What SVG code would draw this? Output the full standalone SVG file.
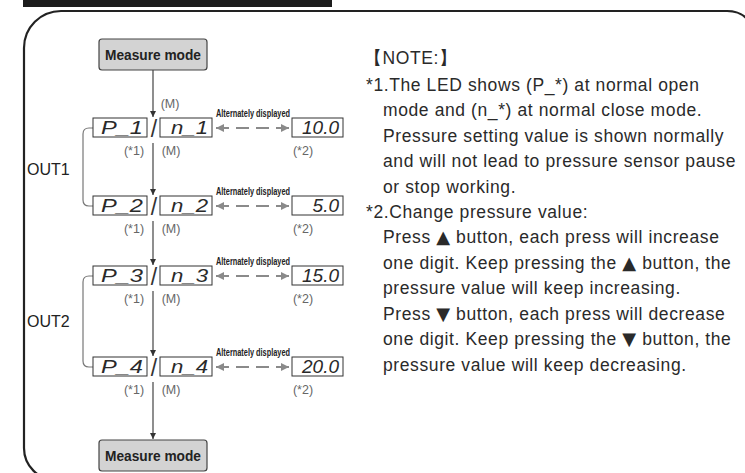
<svg xmlns="http://www.w3.org/2000/svg" width="745" height="473" viewBox="0 0 745 473">
<style>
.frame{fill:none;stroke:#222;stroke-width:2.2}
.mm rect{fill:#d3d3d3;stroke:#444;stroke-width:1.2}
.mm text{font-family:"Liberation Sans",Arial,sans-serif;font-weight:bold;font-size:15px;fill:#222;text-anchor:middle}
.led{fill:#fff;stroke:#333;stroke-width:1}
.seg{font-family:"Liberation Sans",Arial,sans-serif;font-style:italic;font-size:19px;fill:#2a2a2a}
.slash{font-family:"Liberation Sans",Arial,sans-serif;font-size:23px;fill:#333;text-anchor:middle}
.alt{font-family:"Liberation Sans",Arial,sans-serif;font-weight:bold;font-size:10px;fill:#222}
.lbl{font-family:"Liberation Sans",Arial,sans-serif;font-size:12.5px;fill:#666;text-anchor:middle}
.out{font-family:"Liberation Sans",Arial,sans-serif;font-size:16px;fill:#222}
.note{font-family:"Liberation Sans","DejaVu Sans",Arial,sans-serif;font-size:17.5px;letter-spacing:0.6px;fill:#2a2a2a}
.tri{font-family:"DejaVu Sans",sans-serif;font-size:18px}
.v{fill:none;stroke:#444;stroke-width:1.2}
.dash{fill:none;stroke:#8a8a8a;stroke-width:2;stroke-dasharray:13 7}
.br{fill:none;stroke:#777;stroke-width:1.2}
</style>
<defs>
<marker id="ah" viewBox="0 0 10 10" refX="10" refY="5" markerWidth="6" markerHeight="7" markerUnits="userSpaceOnUse" orient="auto">
<path d="M0 0 L10 5 L0 10 Z" fill="#333"/>
</marker>
<marker id="ag" viewBox="0 0 10 10" refX="10" refY="5" markerWidth="12" markerHeight="8" markerUnits="userSpaceOnUse" orient="auto-start-reverse">
<path d="M0 0 L10 5 L0 10 Z" fill="#8a8a8a"/>
</marker>
</defs>
<rect x="23" y="-2" width="309" height="9" fill="#1c1c1c"/>
<path class="frame" d="M746 18 Q739 11 727 11 L61 11 A37 37 0 0 0 24 48 L24 448 A32 32 0 0 0 56 480"/>

<g id="connectors">
<line class="v" x1="153" y1="70" x2="153" y2="117" marker-end="url(#ah)"/>
<line class="v" x1="153" y1="143" x2="153" y2="195" marker-end="url(#ah)"/>
<line class="v" x1="153" y1="221" x2="153" y2="265" marker-end="url(#ah)"/>
<line class="v" x1="153" y1="291" x2="153" y2="356" marker-end="url(#ah)"/>
<line class="v" x1="153" y1="382" x2="153" y2="439" marker-end="url(#ah)"/>
<line class="dash" x1="216" y1="128" x2="289" y2="128" marker-start="url(#ag)" marker-end="url(#ag)"/>
<line class="dash" x1="216" y1="206" x2="289" y2="206" marker-start="url(#ag)" marker-end="url(#ag)"/>
<line class="dash" x1="216" y1="276" x2="289" y2="276" marker-start="url(#ag)" marker-end="url(#ag)"/>
<line class="dash" x1="216" y1="367" x2="289" y2="367" marker-start="url(#ag)" marker-end="url(#ag)"/>
<path class="br" d="M93 128 L89 128 Q83 128 83 134 L83 200 Q83 206 89 206 L93 206"/>
<path class="br" d="M93 276 L89 276 Q83 276 83 282 L83 361 Q83 367 89 367 L93 367"/>
<text class="lbl" x="170" y="108">(M)</text>
<text class="lbl" x="171" y="155">(M)</text>
<text class="lbl" x="171" y="233">(M)</text>
<text class="lbl" x="171" y="303">(M)</text>
<text class="lbl" x="171" y="394">(M)</text>
</g>

<g id="measure-top" class="mm">
<rect x="99" y="39" width="108" height="31" rx="3"/>
<text x="153" y="60" textLength="96" lengthAdjust="spacingAndGlyphs">Measure mode</text>
</g>

<g id="row1">
<rect class="led" x="93" y="118" width="54" height="19"/>
<text class="seg" x="101" y="134" textLength="42" lengthAdjust="spacingAndGlyphs">P_1</text>
<text class="slash" x="154" y="137">/</text>
<rect class="led" x="160" y="118" width="52" height="19"/>
<text class="seg" x="171" y="134" textLength="37" lengthAdjust="spacingAndGlyphs">n_1</text>
<text class="alt" x="216" y="117" textLength="74" lengthAdjust="spacingAndGlyphs">Alternately displayed</text>
<rect class="led" x="292" y="118" width="51" height="19"/>
<text class="seg" x="339" y="134" text-anchor="end">10.0</text>
<text class="lbl" x="134" y="155">(*1)</text>
<text class="lbl" x="303" y="155">(*2)</text>
</g>

<g id="row2">
<rect class="led" x="93" y="196" width="54" height="19"/>
<text class="seg" x="101" y="212" textLength="42" lengthAdjust="spacingAndGlyphs">P_2</text>
<text class="slash" x="154" y="215">/</text>
<rect class="led" x="160" y="196" width="52" height="19"/>
<text class="seg" x="171" y="212" textLength="37" lengthAdjust="spacingAndGlyphs">n_2</text>
<text class="alt" x="216" y="195" textLength="74" lengthAdjust="spacingAndGlyphs">Alternately displayed</text>
<rect class="led" x="292" y="196" width="51" height="19"/>
<text class="seg" x="339" y="212" text-anchor="end">5.0</text>
<text class="lbl" x="134" y="233">(*1)</text>
<text class="lbl" x="303" y="233">(*2)</text>
</g>

<g id="row3">
<rect class="led" x="93" y="266" width="54" height="19"/>
<text class="seg" x="101" y="282" textLength="42" lengthAdjust="spacingAndGlyphs">P_3</text>
<text class="slash" x="154" y="285">/</text>
<rect class="led" x="160" y="266" width="52" height="19"/>
<text class="seg" x="171" y="282" textLength="37" lengthAdjust="spacingAndGlyphs">n_3</text>
<text class="alt" x="216" y="265" textLength="74" lengthAdjust="spacingAndGlyphs">Alternately displayed</text>
<rect class="led" x="292" y="266" width="51" height="19"/>
<text class="seg" x="339" y="282" text-anchor="end">15.0</text>
<text class="lbl" x="134" y="303">(*1)</text>
<text class="lbl" x="303" y="303">(*2)</text>
</g>

<g id="row4">
<rect class="led" x="93" y="357" width="54" height="19"/>
<text class="seg" x="101" y="373" textLength="42" lengthAdjust="spacingAndGlyphs">P_4</text>
<text class="slash" x="154" y="376">/</text>
<rect class="led" x="160" y="357" width="52" height="19"/>
<text class="seg" x="171" y="373" textLength="37" lengthAdjust="spacingAndGlyphs">n_4</text>
<text class="alt" x="216" y="356" textLength="74" lengthAdjust="spacingAndGlyphs">Alternately displayed</text>
<rect class="led" x="292" y="357" width="51" height="19"/>
<text class="seg" x="339" y="373" text-anchor="end">20.0</text>
<text class="lbl" x="134" y="394">(*1)</text>
<text class="lbl" x="303" y="394">(*2)</text>
</g>

<g id="measure-bottom" class="mm">
<rect x="99" y="440" width="108" height="31" rx="3"/>
<text x="153" y="461" textLength="96" lengthAdjust="spacingAndGlyphs">Measure mode</text>
</g>

<g id="out-labels">
<text class="out" x="27" y="175">OUT1</text>
<text class="out" x="27" y="327">OUT2</text>
</g>

<g id="notes">
<text class="note" x="364" y="64">【NOTE:】</text>
<text class="note" x="366" y="91">*1.The LED shows (P_*)  at normal open</text>
<text class="note" x="383" y="116">mode and (n_*) at normal close mode.</text>
<text class="note" x="383" y="142">Pressure setting value is shown normally</text>
<text class="note" x="383" y="167">and will not lead to pressure sensor pause</text>
<text class="note" x="383" y="193">or stop working.</text>
<text class="note" x="366" y="218">*2.Change pressure value:</text>
<text class="note" x="383" y="243">Press <tspan class="tri">▲</tspan> button, each press will increase</text>
<text class="note" x="383" y="269">one digit. Keep pressing the <tspan class="tri">▲</tspan> button, the</text>
<text class="note" x="383" y="294">pressure value will keep increasing.</text>
<text class="note" x="383" y="320">Press <tspan class="tri">▼</tspan> button, each press will decrease</text>
<text class="note" x="383" y="345">one digit. Keep pressing the <tspan class="tri">▼</tspan> button, the</text>
<text class="note" x="383" y="371">pressure value will keep decreasing.</text>
</g>
</svg>
